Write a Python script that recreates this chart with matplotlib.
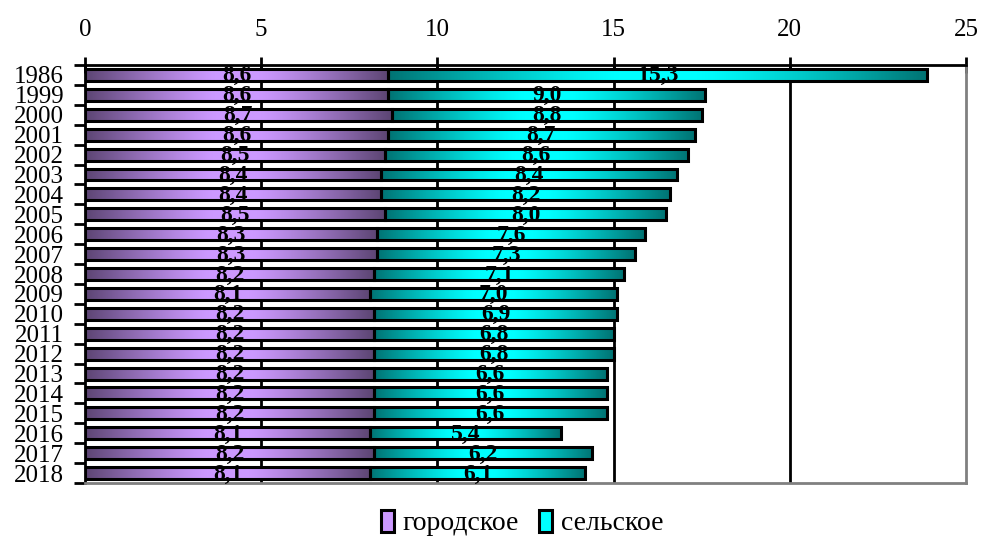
import matplotlib
matplotlib.use("Agg")
import matplotlib.pyplot as plt
import numpy as np
from matplotlib.patches import Patch

plt.rcParams['font.family'] = ['Liberation Serif', 'DejaVu Serif']

years = ['1986', '1999', '2000', '2001', '2002', '2003', '2004', '2005', '2006', '2007',
         '2008', '2009', '2010', '2011', '2012', '2013', '2014', '2015', '2016', '2017', '2018']
urban = [8.6, 8.6, 8.7, 8.6, 8.5, 8.4, 8.4, 8.5, 8.3, 8.3,
         8.2, 8.1, 8.2, 8.2, 8.2, 8.2, 8.2, 8.2, 8.1, 8.2, 8.1]
rural = [15.3, 9.0, 8.8, 8.7, 8.6, 8.4, 8.2, 8.0, 7.6, 7.3,
         7.1, 7.0, 6.9, 6.8, 6.8, 6.6, 6.6, 6.6, 5.4, 6.2, 6.1]
series_names = ['городское', 'сельское']

purple = np.array([0xcc, 0x99, 0xff]) / 255
cyan = np.array([0x00, 0xff, 0xff]) / 255


def gradient(color, n=256):
    # dark edges, light middle
    x = np.linspace(0, 1, n)
    t = np.abs(x - 0.5) * 2
    k = 1 - 0.55 * np.clip((t - 0.15) / 0.85, 0, 1) ** 1.2
    return (color[None, :] * k[:, None])[None, :, :]


def fmt(v):
    return f'{v:.1f}'.replace('.', ',')


fig = plt.figure(figsize=(9.81, 5.38), dpi=100)
ax = fig.add_axes([0.0866, 0.1022, 0.8981, 0.7770])

y = np.arange(len(years))
h = 0.6

for x in [5, 10, 15, 20]:
    ax.axvline(x, color='black', lw=2, zorder=0)

bars_u = ax.barh(y, urban, height=h, facecolor='none', edgecolor='black', lw=2.2, zorder=3)
bars_r = ax.barh(y, rural, left=urban, height=h, facecolor='none', edgecolor='black', lw=2.2, zorder=3)

for bars, col in [(bars_u, purple), (bars_r, cyan)]:
    img = gradient(col)
    for b in bars:
        x0, y0 = b.get_x(), b.get_y()
        im = ax.imshow(img, extent=[x0, x0 + b.get_width(), y0 + b.get_height(), y0],
                       aspect='auto', zorder=2, interpolation='bilinear')
        im.set_clip_path(b)

for i in range(len(years)):
    ax.text(urban[i] / 2, y[i] + 0.05, fmt(urban[i]), ha='center', va='center',
            fontsize=17, fontweight='bold', zorder=5)
    ax.text(urban[i] + rural[i] / 2, y[i] + 0.05, fmt(rural[i]), ha='center', va='center',
            fontsize=17, fontweight='bold', zorder=5)

ax.set_xlim(0, 25)
ax.set_ylim(len(years) - 0.5, -0.5)

ax.xaxis.tick_top()
ax.set_xticks([0, 5, 10, 15, 20, 25])
ax.tick_params(axis='x', direction='inout', length=12, width=2, labelsize=18, pad=11)

ax.set_yticks(y)
ax.set_yticklabels(years)
ax.set_yticks(np.arange(-0.5, len(years)), minor=True)
ax.tick_params(axis='y', which='major', length=0, labelsize=18, pad=15)
ax.tick_params(axis='y', which='minor', direction='out', length=8, width=2)

ax.spines['top'].set_linewidth(2)
ax.spines['left'].set_linewidth(2)
ax.spines['right'].set_color('#808080')
ax.spines['right'].set_linewidth(2)
ax.spines['bottom'].set_color('#808080')
ax.spines['bottom'].set_linewidth(2)

handles = [Patch(facecolor=purple, edgecolor='black', lw=2.2),
           Patch(facecolor=cyan, edgecolor='black', lw=2.2)]
fig.legend(handles, series_names, loc='center', bbox_to_anchor=(0.532, 0.028), ncol=2,
           frameon=False, fontsize=20, handlelength=0.5, handleheight=0.85,
           handletextpad=0.3, columnspacing=0.7)

fig.savefig('out.png', dpi=100)
